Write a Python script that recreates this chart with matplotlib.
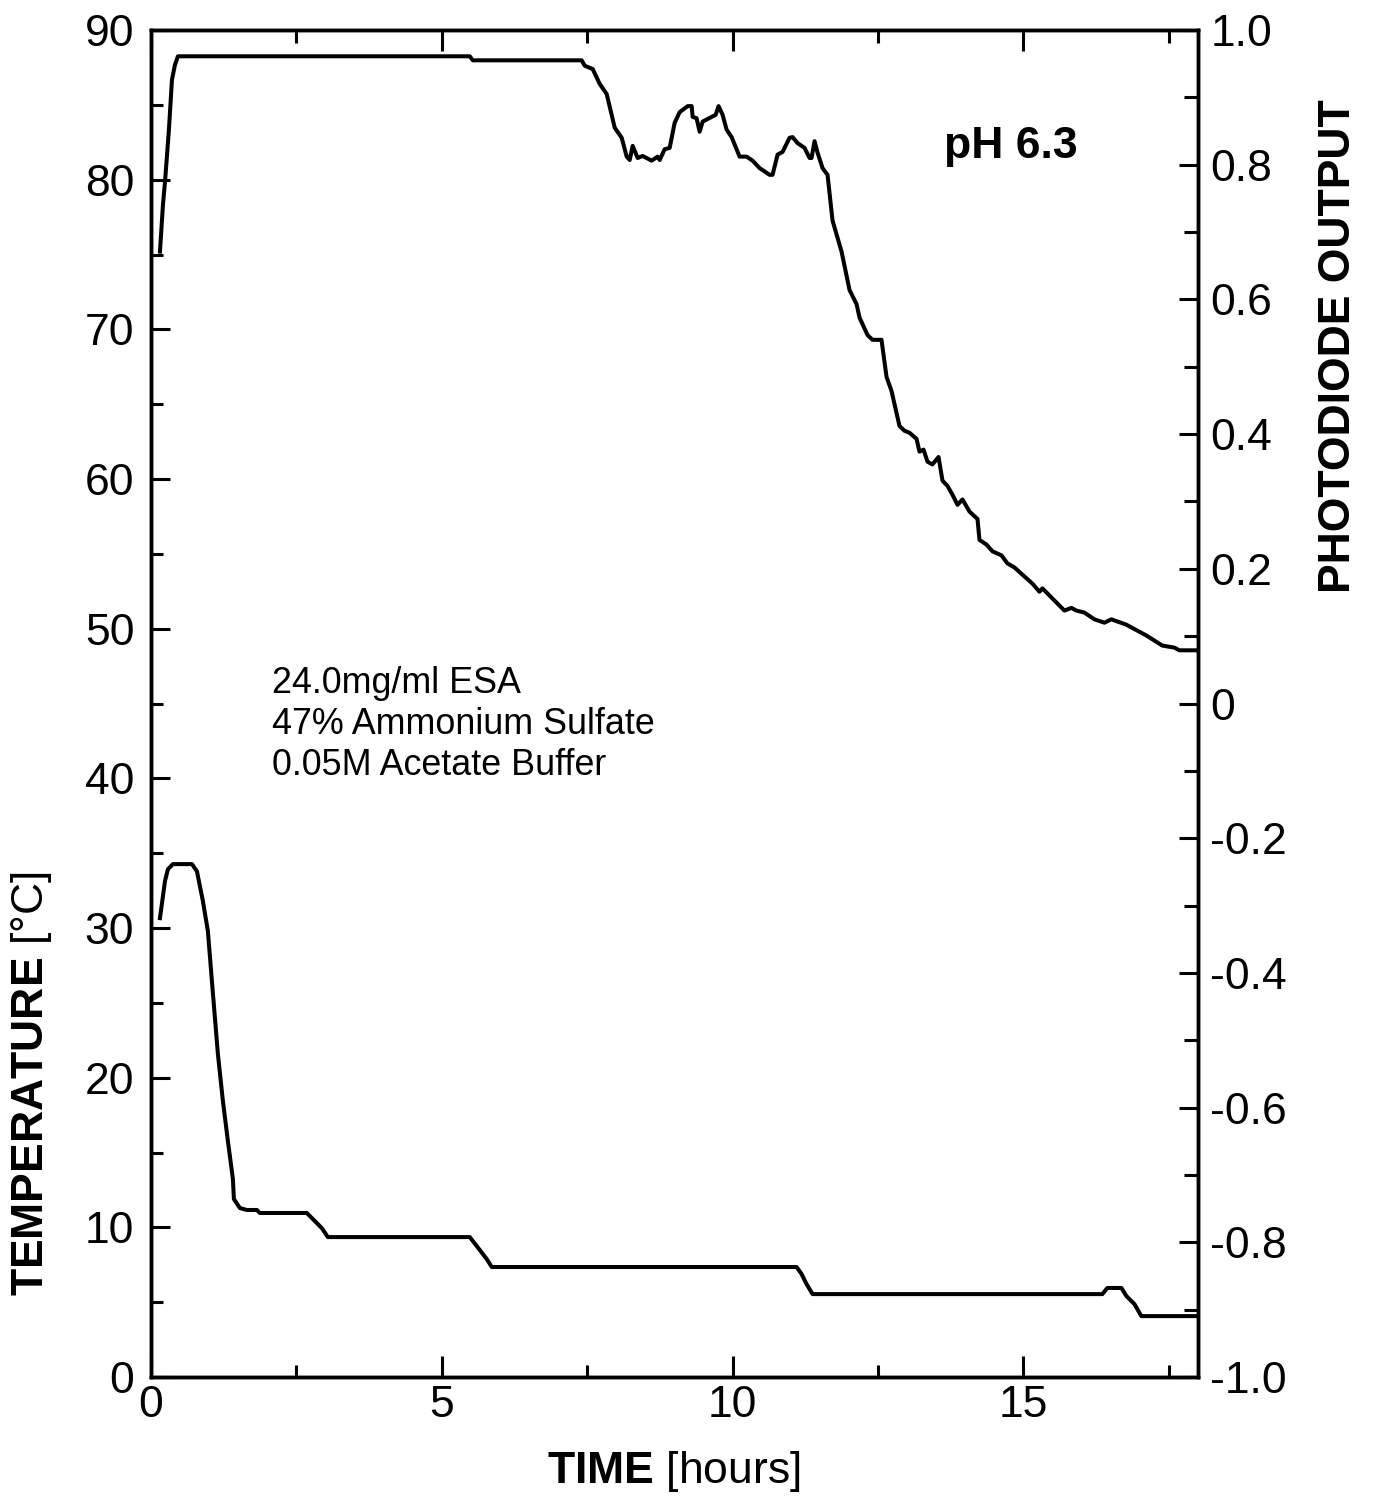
import matplotlib
matplotlib.use("Agg")
import matplotlib.pyplot as plt
from matplotlib.ticker import MultipleLocator, FixedLocator, FixedFormatter

plt.rcParams['font.family'] = ['Liberation Sans', 'DejaVu Sans']
plt.rcParams['mathtext.fontset'] = 'custom'
plt.rcParams['mathtext.rm'] = 'Liberation Sans'
plt.rcParams['mathtext.bf'] = 'Liberation Sans:bold'

# photodiode output (right axis)
pd_time = [0.155, 0.206, 0.241, 0.309, 0.361, 0.412, 0.464, 5.481, 5.533, 7.405,
           7.457, 7.595, 7.715, 7.835, 7.973, 8.093, 8.179, 8.231, 8.282, 8.368,
           8.454, 8.608, 8.711, 8.746, 8.832, 8.918, 9.003, 9.089, 9.227, 9.296,
           9.313, 9.381, 9.433, 9.485, 9.639, 9.708, 9.759, 9.828, 9.897, 9.983,
           10.120, 10.241, 10.344, 10.464, 10.636, 10.687, 10.773, 10.859, 10.979, 11.031,
           11.117, 11.237, 11.323, 11.357, 11.409, 11.460, 11.546, 11.632, 11.718, 11.873,
           12.010, 12.131, 12.182, 12.320, 12.405, 12.560, 12.646, 12.732, 12.869, 12.955,
           13.041, 13.162, 13.213, 13.282, 13.351, 13.436, 13.540, 13.608, 13.694, 13.780,
           13.866, 13.952, 14.072, 14.210, 14.244, 14.364, 14.467, 14.622, 14.725, 14.845,
           15.155, 15.275, 15.326, 15.704, 15.825, 15.911, 16.048, 16.220, 16.392, 16.512,
           16.770, 17.113, 17.388, 17.595, 17.680, 17.990]
pd_output = [0.671, 0.740, 0.774, 0.852, 0.926, 0.948, 0.961, 0.961, 0.955, 0.955,
             0.947, 0.942, 0.920, 0.905, 0.855, 0.840, 0.812, 0.807, 0.828, 0.810,
             0.813, 0.806, 0.812, 0.807, 0.823, 0.825, 0.862, 0.878, 0.887, 0.887,
             0.871, 0.869, 0.849, 0.864, 0.871, 0.874, 0.887, 0.874, 0.852, 0.841,
             0.812, 0.812, 0.806, 0.795, 0.785, 0.785, 0.815, 0.819, 0.840, 0.841,
             0.832, 0.825, 0.810, 0.810, 0.835, 0.818, 0.795, 0.785, 0.717, 0.671,
             0.614, 0.593, 0.573, 0.547, 0.540, 0.540, 0.485, 0.464, 0.412, 0.405,
             0.402, 0.393, 0.374, 0.377, 0.359, 0.355, 0.366, 0.331, 0.323, 0.310,
             0.295, 0.303, 0.285, 0.274, 0.243, 0.236, 0.226, 0.220, 0.208, 0.202,
             0.178, 0.166, 0.171, 0.138, 0.142, 0.138, 0.135, 0.125, 0.120, 0.125,
             0.117, 0.101, 0.086, 0.083, 0.079, 0.079]

# temperature (left axis)
temp_time = [0.155, 0.241, 0.292, 0.378, 0.704, 0.790, 0.893, 0.979, 1.048, 1.151,
             1.237, 1.323, 1.409, 1.426, 1.529, 1.649, 1.821, 1.873, 2.680, 2.784,
             2.938, 3.041, 5.481, 5.601, 5.773, 5.859, 11.100, 11.186, 11.271, 11.375,
             16.357, 16.443, 16.684, 16.770, 16.907, 17.027, 17.990]
temp_c = [30.66, 33.13, 33.93, 34.27, 34.27, 33.80, 31.80, 29.79, 26.45, 21.58,
          18.44, 15.76, 13.23, 11.89, 11.29, 11.16, 11.16, 10.96, 10.96, 10.55,
          9.95, 9.35, 9.35, 8.75, 7.88, 7.35, 7.35, 6.88, 6.21, 5.54,
          5.54, 5.95, 5.95, 5.41, 4.88, 4.07, 4.07]

right_ticks = [1.0, 0.8, 0.6, 0.4, 0.2, 0.0, -0.2, -0.4, -0.6, -0.8, -1.0]
right_labels = ['1.0', '0.8', '0.6', '0.4', '0.2', '0', '-0.2', '-0.4', '-0.6', '-0.8', '-1.0']
notes = ['24.0mg/ml ESA', '47% Ammonium Sulfate', '0.05M Acetate Buffer']

fig = plt.figure(figsize=(13.76, 15.01), dpi=100)
ax = fig.add_axes([0.1097, 0.0826, 0.7609, 0.8974])
ax2 = ax.twinx()

ax.plot(temp_time, temp_c, color='black', linewidth=2.9)
ax2.plot(pd_time, pd_output, color='black', linewidth=2.9)

ax.set_xlim(0, 18)
ax.set_ylim(0, 90)
ax2.set_ylim(-1.0, 1.0)

ax.xaxis.set_major_locator(MultipleLocator(5))
ax.xaxis.set_minor_locator(MultipleLocator(2.5))
ax.yaxis.set_major_locator(MultipleLocator(10))
ax.yaxis.set_minor_locator(MultipleLocator(5))
ax2.yaxis.set_major_locator(FixedLocator(right_ticks))
ax2.yaxis.set_major_formatter(FixedFormatter(right_labels))
ax2.yaxis.set_minor_locator(MultipleLocator(0.1))

ax.tick_params(axis='x', which='both', direction='in', top=True, bottom=True, width=2.2)
ax.tick_params(axis='x', which='major', length=15, labelsize=32, pad=6)
ax.tick_params(axis='x', which='minor', length=9)
ax.tick_params(axis='y', which='both', direction='in', left=True, right=False, width=2.2)
ax.tick_params(axis='y', which='major', length=14, labelsize=32, pad=12)
ax.tick_params(axis='y', which='minor', length=8.5)
ax2.tick_params(axis='y', which='both', direction='in', width=2.2)
ax2.tick_params(axis='y', which='major', length=14, labelsize=32, pad=9)
ax2.tick_params(axis='y', which='minor', length=10)

for a in (ax, ax2):
    for s in a.spines.values():
        s.set_linewidth(2.5)

for i, line in enumerate(notes):
    ax.text(2.08, 45.69 - 2.74 * i, line, fontsize=25.8, ha='left', va='baseline')

ax.text(13.64, 81.46, 'pH 6.3', fontsize=32, fontweight='bold', ha='left', va='baseline')

fig.text(674 / 1376, 1 - 1471 / 1501, r'$\mathbf{TIME}$ [hours]', fontsize=32,
         ha='center', va='center')
fig.text(32 / 1376, 1 - 1084 / 1501, r'$\mathbf{TEMPERATURE}$ [°C]', fontsize=32,
         rotation=90, ha='center', va='center')
fig.text(1339 / 1376, 1 - 346 / 1501, 'PHOTODIODE OUTPUT', fontsize=32,
         fontweight='bold', rotation=90, ha='center', va='center')

fig.savefig('out.png', dpi=100)
